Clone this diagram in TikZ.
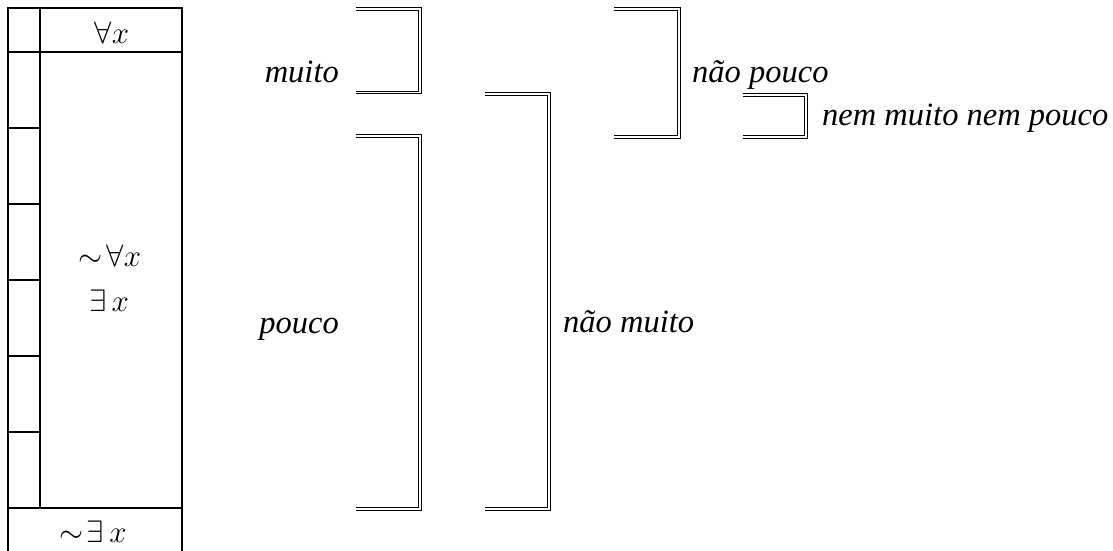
\RequirePackage{fix-cm}
\documentclass[tikz,border=0pt]{standalone}
\usepackage{fontspec}
\setmainfont{Liberation Serif}
\begin{document}
\begin{tikzpicture}[x=1pt,y=-1pt,
  boxline/.style={line width=1.3pt},
  brk/.style={double, double distance=1.9pt, line width=1pt, line join=miter},
  lbl/.style={inner sep=0pt, font=\fontsize{32.5}{38}\selectfont\itshape},
  mlbl/.style={inner sep=0pt, font=\fontsize{31}{36}\selectfont}]
\useasboundingbox (0,0) rectangle (1113,550);
% left column
\draw[boxline] (8,552) -- (8,8) -- (182,8) -- (182,552);
\draw[boxline] (8,52) -- (182,52);
\draw[boxline] (8,508) -- (182,508);
\draw[boxline] (40,8) -- (40,508);
\foreach \y in {128,204,280,356,432} \draw[boxline] (8,\y) -- (40,\y);
\node[mlbl, anchor=base] (fa) at (112,43) {$\forall x$};
\node[mlbl, anchor=base] (nfa) at (110,266) {$\sim\!\forall x$};
\node[mlbl, anchor=base] (ex) at (109,311) {$\exists\,x$};
\node[mlbl, anchor=base] (nex) at (93,542) {$\sim\!\exists\,x$};
% brackets
\coordinate (m1) at (356,8.7);  \coordinate (m2) at (356,92.5);
\draw[brk] (m1) -- (420.3,8.7) -- (420.3,92.5) -- (m2);
\coordinate (p1) at (356,136.3); \coordinate (p2) at (356,508.7);
\draw[brk] (p1) -- (420.3,136.3) -- (420.3,508.7) -- (p2);
\coordinate (nm1) at (485,93.8); \coordinate (nm2) at (485,508.7);
\draw[brk] (nm1) -- (549.2,93.8) -- (549.2,508.7) -- (nm2);
\coordinate (np1) at (614,8.7); \coordinate (np2) at (614,136.7);
\draw[brk] (np1) -- (678.7,8.7) -- (678.7,136.7) -- (np2);
\coordinate (nn1) at (743,94.7); \coordinate (nn2) at (743,136.7);
\draw[brk] (nn1) -- (805.7,94.7) -- (805.7,136.7) -- (nn2);
% labels
\node[lbl, anchor=base east] (muito) at (339,82) {muito};
\node[lbl, anchor=base east] (pouco) at (339,333) {pouco};
\node[lbl, anchor=base west] (naomuito) at (563,332) {não muito};
\node[lbl, anchor=base west] (naopouco) at (692,82) {não pouco};
\node[lbl, anchor=base west] (nem) at (822,125) {nem muito nem pouco};
\end{tikzpicture}
\end{document}
